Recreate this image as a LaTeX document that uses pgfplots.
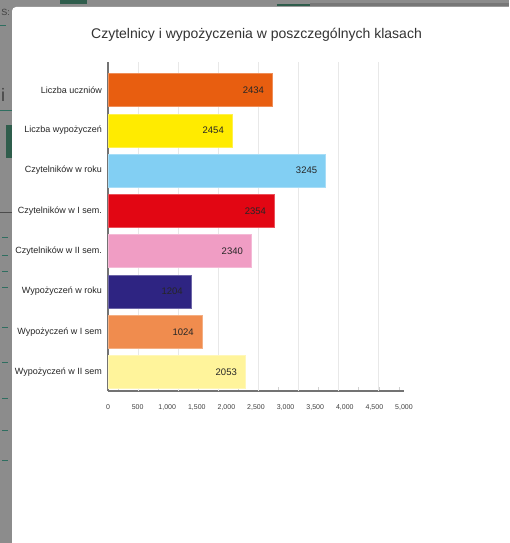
\documentclass[border=0pt]{standalone}
\usepackage{pgfplots}
\pgfplotsset{compat=1.18}
\usepackage{fontspec}
\setmainfont{Liberation Sans}
\definecolor{bgc}{HTML}{8C8C8C}
\definecolor{dgreen}{HTML}{2F5D4C}
\definecolor{teal1}{HTML}{2E6E60}
\definecolor{c1}{HTML}{E85E10}
\definecolor{c2}{HTML}{FFEB00}
\definecolor{c3}{HTML}{82CFF3}
\definecolor{c4}{HTML}{E20613}
\definecolor{c5}{HTML}{F09DC4}
\definecolor{c6}{HTML}{2E2482}
\definecolor{c7}{HTML}{F08C4E}
\definecolor{c8}{HTML}{FFF49B}
\begin{document}
\begin{tikzpicture}[x=1pt,y=1pt]
\path[use as bounding box] (0pt,0pt) rectangle (509pt,-543pt);
\fill[bgc] (0pt,0pt) rectangle (509pt,-543pt);
\fill[dgreen] (60pt,0pt) rectangle (87pt,-4pt);
\fill[dgreen] (277pt,-4pt) rectangle (310pt,-6pt);
\fill[bgc!85!black] (310pt,-3pt) rectangle (509pt,-6pt);
\fill[teal1] (0pt,-25pt) rectangle (6pt,-26pt);
\fill[teal1] (0pt,-110pt) rectangle (12pt,-111pt);
\fill[dgreen] (6pt,-125pt) rectangle (12pt,-158pt);
\fill[black!70] (0pt,-212pt) rectangle (12pt,-213pt);
\foreach \yy in {237,255,271,287,327,362,398,430,460}{\fill[teal1] (2pt,-\yy pt) rectangle (8pt,-\yy pt-1pt);}
\node[text=black!75,font=\fontsize{18}{18}\selectfont,anchor=west,inner sep=0pt] at (1pt,-95pt) {i};
\node[text=black!75,font=\fontsize{9}{9}\selectfont,anchor=east,inner sep=0pt] at (10pt,-12pt) {S:};
\fill[white,rounded corners=4pt] (12pt,-7pt) rectangle (530pt,-560pt);
\node[text=black!80,font=\fontsize{14}{16}\selectfont,inner sep=0pt] at (256.5pt,-35pt) {Czytelnicy i wypożyczenia w poszczególnych klasach};
\begin{axis}[
  at={(108pt,-391pt)}, anchor=south west,
  scale only axis, width=296pt, height=329pt,
  xmin=0, xmax=5000, ymin=-0.47, ymax=7.695,
  axis x line*=bottom, axis y line*=left,
  axis line style={draw=black!55, line width=1.2pt},
  xtick={0,500,...,5000},
  xticklabels={0,500,{1,000},{1,500},{2,000},{2,500},{3,000},{3,500},{4,000},{4,500},{5,000}},
  xticklabel style={font=\fontsize{7}{8}\selectfont, text=black!75, inner sep=0pt, yshift=-13pt},
  major tick length=0pt,
  minor xtick={169,847,1525,2203,2881,3559,4237,4915,508,1186,1864,2542,3220,3898,4576},
  minor tick length=4pt, tick align=inside,
  minor tick style={draw=black!18, line width=0.8pt},
  extra x ticks={508,1186,1864,2542,3220,3898,4576},
  extra x tick labels={},
  extra x tick style={grid=major, major grid style={draw=black!9, line width=1.1pt}},
  ytick={0,...,7},
  yticklabels={Wypożyczeń w II sem,Wypożyczeń w I sem,Wypożyczeń w roku,Czytelników w II sem.,Czytelników w I sem.,Czytelników w roku,Liczba wypożyczeń,Liczba uczniów},
  yticklabel style={font=\fontsize{9}{10}\selectfont, text=black!85, inner sep=0pt, xshift=-6pt},
  xbar, bar width=33pt,
  point meta=explicit symbolic,
  nodes near coords,
  every node near coord/.append style={anchor=east, xshift=-5pt, font=\fontsize{9.5}{10}\selectfont, text=black!85},
  clip=false,
]
\addplot[xbar, bar shift=0pt, fill=c1, draw=c1!70!white, line width=0.6pt] coordinates {(2780,7) [2434]};
\addplot[xbar, bar shift=0pt, fill=c2, draw=c2!70!white, line width=0.6pt] coordinates {(2102,6) [2454]};
\addplot[xbar, bar shift=0pt, fill=c3, draw=c3!70!white, line width=0.6pt] coordinates {(3678,5) [3245]};
\addplot[xbar, bar shift=0pt, fill=c4, draw=c4!70!white, line width=0.6pt] coordinates {(2814,4) [2354]};
\addplot[xbar, bar shift=0pt, fill=c5, draw=c5!70!white, line width=0.6pt] coordinates {(2424,3) [2340]};
\addplot[xbar, bar shift=0pt, fill=c6, draw=c6!70!white, line width=0.6pt] coordinates {(1407,2) [1204]};
\addplot[xbar, bar shift=0pt, fill=c7, draw=c7!70!white, line width=0.6pt] coordinates {(1593,1) [1024]};
\addplot[xbar, bar shift=0pt, fill=c8, draw=c8!70!white, line width=0.6pt] coordinates {(2322,0) [2053]};
\end{axis}
\end{tikzpicture}
\end{document}
